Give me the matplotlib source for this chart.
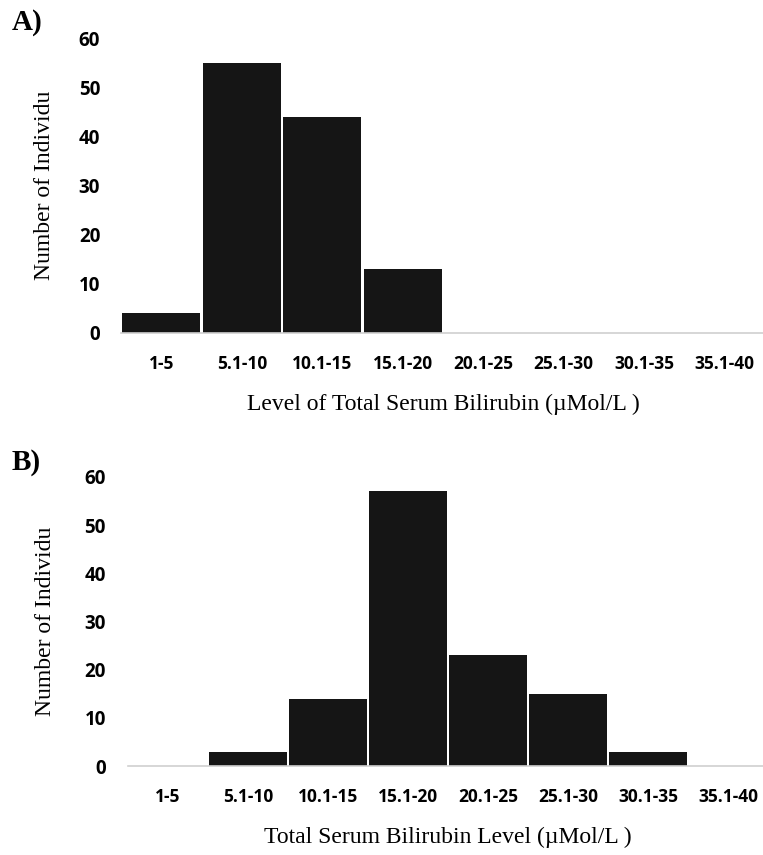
import matplotlib
matplotlib.use("Agg")

import numpy as np
import matplotlib.pyplot as plt


# data
categories=["1-5","5.1-10","10.1-15","15.1-20","20.1-25","25.1-30","30.1-35","35.1-40"]
counts_a=[4,55,44,13,0,0,0,0]
counts_b=[0,3,14,57,23,15,3,0]
yticks=[0,10,20,30,40,50,60]

bar_color="#151515"
tick_font="Open Sans"
label_font="Liberation Serif"


def draw_panel(ax,counts,xlabel,ypad):

    x=np.arange(len(categories))

    ax.bar(x,counts,width=0.975,color=bar_color,edgecolor="none")

    ax.set_xlim(-0.5,len(categories)-0.5)
    ax.set_ylim(0,60)

    ax.set_yticks(yticks)
    ax.set_xticks(x)
    ax.set_xticklabels(categories)

    for s in ["top","right","left"]:
        ax.spines[s].set_visible(False)
    ax.spines["bottom"].set_color("#d0d0d0")
    ax.spines["bottom"].set_linewidth(1.2)

    ax.tick_params(length=0)
    ax.tick_params(axis="x",pad=16)
    ax.tick_params(axis="y",pad=ypad)

    for lab in ax.get_xticklabels():
        lab.set_fontfamily(tick_font)
        lab.set_fontweight("bold")
        lab.set_fontsize(12.5)
    for lab in ax.get_yticklabels():
        lab.set_fontfamily(tick_font)
        lab.set_fontweight("bold")
        lab.set_fontsize(13.5)

    ax.set_xlabel(xlabel,fontfamily=label_font,fontsize=17,labelpad=15)
    ax.set_ylabel("Number of Individu",fontfamily=label_font,fontsize=17)


fig=plt.figure(figsize=(7.63,8.55),dpi=100)

# panel A
ax1=fig.add_axes([121/763,1-333/855,644/763,295/855])
draw_panel(ax1,counts_a,"Level of Total Serum Bilirubin (\u00b5Mol/L )",15)
ax1.yaxis.set_label_coords(-0.103,0.5)

# panel B
ax2=fig.add_axes([128/763,1-766/855,640/763,289/855])
draw_panel(ax2,counts_b,"Total Serum Bilirubin Level (\u00b5Mol/L )",16)
ax2.yaxis.set_label_coords(-0.113,0.5)

# panel letters
fig.text(12/763,1-22/855,"A)",fontfamily=label_font,fontweight="bold",fontsize=21,va="center")
fig.text(12/763,1-462/855,"B)",fontfamily=label_font,fontweight="bold",fontsize=21,va="center")

fig.savefig("out.png",dpi=100)
plt.close(fig)
